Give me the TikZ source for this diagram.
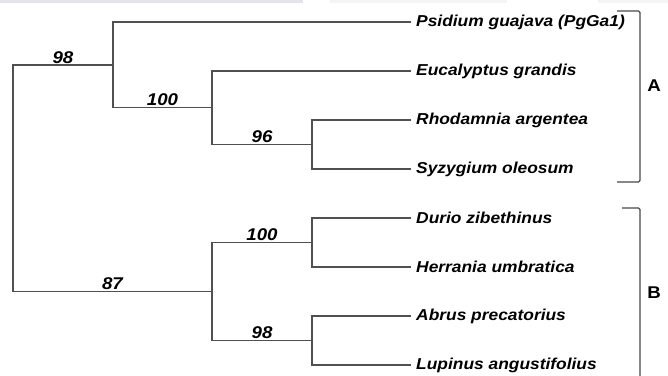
\documentclass[tikz,border=0pt]{standalone}
\usepackage{fontspec}
\newfontfamily\treefont{Liberation Sans}[FakeStretch=1.1]
\usetikzlibrary{positioning}
\definecolor{treeGray}{HTML}{505050}
\definecolor{stripGray}{HTML}{E4E4EA}

\begin{document}
\begin{tikzpicture}[x=1pt,y=-1pt,
  branch/.style={draw=treeGray,line width=1.3pt},
  bracket/.style={draw=treeGray!90!black,line width=1.3pt,rounded corners=1.5pt},
  support/.style={font=\treefont\bfseries\itshape\fontsize{17}{20}\selectfont,anchor=south,inner sep=1pt},
  leaf/.style={font=\treefont\bfseries\itshape\fontsize{15.8}{19}\selectfont,anchor=west,inner xsep=5pt,inner ysep=1pt},
  clade/.style={font=\treefont\bfseries\fontsize{17}{20}\selectfont,inner sep=0pt}]
  \useasboundingbox (0,0) rectangle (668,375);
  \fill[stripGray] (0,0) rectangle (303,3);
  \fill[stripGray!40] (330,0) rectangle (507,3);
  \fill[stripGray!40] (598,0) rectangle (668,3);
  \def\taxon#1#2#3{\node[leaf] (#1) at (411,#2) {#3};}
  \taxon{psi}{22}{Psidium guajava (PgGa1)}
  \taxon{euc}{71}{Eucalyptus grandis}
  \taxon{rho}{120}{Rhodamnia argentea}
  \taxon{syz}{169}{Syzygium oleosum}
  \taxon{dur}{218}{Durio zibethinus}
  \taxon{her}{267}{Herrania umbratica}
  \taxon{abr}{316}{Abrus precatorius}
  \taxon{lup}{365}{Lupinus angustifolius}
  % internal nodes
  \coordinate (root) at (13,178);
  \coordinate (nA) at (113,65);
  \coordinate (nEuc) at (212,107.75);
  \coordinate (nRS) at (312,144.5);
  \coordinate (nB) at (212,291.75);
  \coordinate (nDH) at (312,242.5);
  \coordinate (nAL) at (312,340.5);
  \draw[branch] (root) |- (nA) node[support,pos=.75] (bs98a) {98};
  \draw[branch] (root) |- (nB) node[support,pos=.75] (bs87) {87};
  \draw[branch] (nA) |- (psi.west);
  \draw[branch] (nA) |- (nEuc) node[support,pos=.75] (bs100a) {100};
  \draw[branch] (nEuc) |- (euc.west);
  \draw[branch] (nEuc) |- (nRS) node[support,pos=.75] (bs96) {96};
  \draw[branch] (nRS) |- (rho.west);
  \draw[branch] (nRS) |- (syz.west);
  \draw[branch] (nB) |- (nDH) node[support,pos=.75] (bs100b) {100};
  \draw[branch] (nB) |- (nAL) node[support,pos=.75] (bs98b) {98};
  \draw[branch] (nDH) |- (dur.west);
  \draw[branch] (nDH) |- (her.west);
  \draw[branch] (nAL) |- (abr.west);
  \draw[branch] (nAL) |- (lup.west);
  % clades
  \draw[bracket] (617,11) -- (640,11) -- (640,182) -- (617,182);
  \node[clade] (cladeA) at (654,86) {A};
  \draw[bracket] (622,208) -- (640,208) -- (640,380);
  \node[clade] (cladeB) at (654,293) {B};
\end{tikzpicture}
\end{document}
